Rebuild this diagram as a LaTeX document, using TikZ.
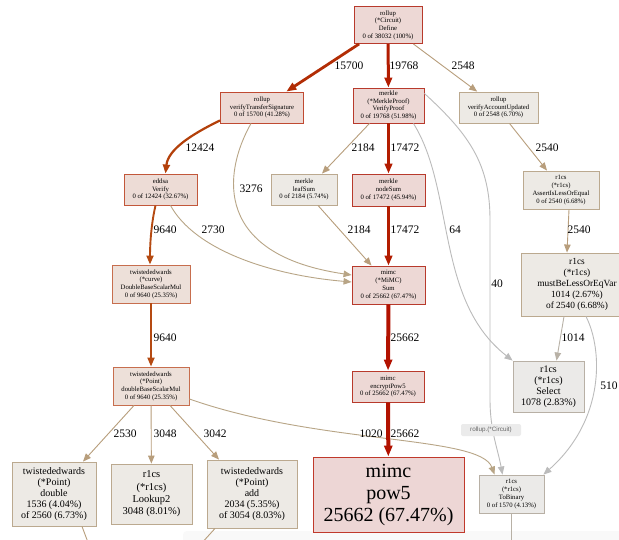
\documentclass[tikz,border=0pt]{standalone}
\usepackage{fontspec}
\setmainfont{Liberation Serif}
\newfontfamily\tipfont{Liberation Sans}
\usetikzlibrary{arrows.meta,calc}
\definecolor{fRed}{HTML}{EDD8D5}
\definecolor{dRed}{HTML}{B83A2C}
\definecolor{fVts}{HTML}{EDDAD5}
\definecolor{dVts}{HTML}{C04A32}
\definecolor{fEd}{HTML}{EDDCD6}
\definecolor{dEd}{HTML}{C2573A}
\definecolor{fTw}{HTML}{EDE0D9}
\definecolor{dTw}{HTML}{C76E4E}
\definecolor{fGr}{HTML}{EDEAE5}
\definecolor{dGr}{HTML}{BBA98F}
\definecolor{fGy}{HTML}{EBEAE8}
\definecolor{dGy}{HTML}{B8B0A5}
\definecolor{fPow}{HTML}{EDD6D5}
\definecolor{dPow}{HTML}{C0392B}
\definecolor{eRa}{HTML}{B21200}
\definecolor{eRb}{HTML}{B21C00}
\definecolor{eRc}{HTML}{B22D05}
\definecolor{eRd}{HTML}{B3400A}
\definecolor{eRe}{HTML}{B54A12}
\definecolor{eTan}{HTML}{B89E7C}
\definecolor{eTanL}{HTML}{B8A586}
\definecolor{eGray}{HTML}{BBBBBB}
\definecolor{eGT}{HTML}{B8B1A6}
\definecolor{tipFill}{HTML}{EBEBEB}
\definecolor{tipText}{HTML}{666666}
\begin{document}
\begin{tikzpicture}[x=1pt,y=-1pt,
  box/.style={rectangle, inner sep=0pt, align=center, line width=0.9pt},
  sm/.style={font=\fontsize{6.7}{7.7}\selectfont},
  md/.style={font=\fontsize{10}{11}\selectfont},
  nRed/.style={box, fill=fRed, draw=dRed},
  nVts/.style={box, fill=fVts, draw=dVts},
  nEd/.style={box, fill=fEd, draw=dEd},
  nTw/.style={box, fill=fTw, draw=dTw},
  nGr/.style={box, fill=fGr, draw=dGr},
  nGy/.style={box, fill=fGy, draw=dGy},
  lab/.style={font=\fontsize{11.5}{12}\selectfont, inner sep=0pt},
  thinE/.style={line width=0.9pt, -{Triangle[length=8pt,width=6.5pt]}},
  wA/.style={eRa, line width=4pt, -{Triangle[length=11pt,width=8pt]}},
  wB/.style={eRb, line width=3pt, -{Triangle[length=10pt,width=7.5pt]}},
  wC/.style={eRc, line width=2.8pt, -{Triangle[length=10pt,width=7.5pt]}},
  wD/.style={eRd, line width=2.2pt, -{Triangle[length=9pt,width=7pt]}},
  wE/.style={eRe, line width=1.9pt, -{Triangle[length=9pt,width=7pt]}},
]
\useasboundingbox (0,0) rectangle (619,539);
\fill[white] (0,0) rectangle (619,539);
\fill[black!2.5, rounded corners=4pt] (183,531) rectangle (625,545);

% nodes
\node[nRed, sm, minimum width=68pt, minimum height=37pt] (define) at (388,25) {rollup\\(*Circuit)\\Define\\0 of 38032 (100\%)};
\node[nVts, sm, minimum width=83pt, minimum height=31pt] (vts) at (262,107.5) {rollup\\verifyTransferSignature\\0 of 15700 (41.28\%)};
\node[nRed, sm, minimum width=71pt, minimum height=35pt] (vp) at (388.5,105.5) {merkle\\(*MerkleProof)\\VerifyProof\\0 of 19768 (51.98\%)};
\node[nGr, sm, minimum width=79pt, minimum height=31pt] (vau) at (498.5,107.5) {rollup\\verifyAccountUpdated\\0 of 2548 (6.70\%)};
\node[nEd, sm, minimum width=73pt, minimum height=31pt] (eddsa) at (160.5,189.5) {eddsa\\Verify\\0 of 12424 (32.67\%)};
\node[nGr, sm, minimum width=66pt, minimum height=31pt] (leaf) at (304,189.5) {merkle\\leafSum\\0 of 2184 (5.74\%)};
\node[nRed, sm, minimum width=73pt, minimum height=32pt] (nodesum) at (388.5,190) {merkle\\nodeSum\\0 of 17472 (45.94\%)};
\node[nGr, sm, minimum width=76pt, minimum height=38pt] (assert) at (561,190) {r1cs\\(*r1cs)\\AssertIsLessOrEqual\\0 of 2540 (6.68\%)};
\node[nGr, font=\fontsize{9.4}{11}\selectfont, minimum width=112pt, minimum height=63pt] (must) at (577,284.5) {r1cs\\(*r1cs)\\mustBeLessOrEqVar\\1014 (2.67\%)\\of 2540 (6.68\%)};
\node[nTw, sm, minimum width=78pt, minimum height=38pt] (curve) at (151,284) {twistededwards\\(*curve)\\DoubleBaseScalarMul\\0 of 9640 (25.35\%)};
\node[nRed, sm, minimum width=73pt, minimum height=38pt] (sum) at (388.5,285) {mimc\\(*MiMC)\\Sum\\0 of 25662 (67.47\%)};
\node[nTw, sm, minimum width=76pt, minimum height=38pt] (point) at (151,386) {twistededwards\\(*Point)\\doubleBaseScalarMul\\0 of 9640 (25.35\%)};
\node[nRed, sm, minimum width=72pt, minimum height=31pt] (enc) at (388,386.5) {mimc\\encryptPow5\\0 of 25662 (67.47\%)};
\node[nGy, md, minimum width=71pt, minimum height=51pt] (select) at (548.5,386.5) {r1cs\\(*r1cs)\\Select\\1078 (2.83\%)};
\node[nGr, md, minimum width=84pt, minimum height=64pt] (double) at (54,494) {twistededwards\\(*Point)\\double\\1536 (4.04\%)\\of 2560 (6.73\%)};
\node[nGr, font=\fontsize{10.5}{12.3}\selectfont, minimum width=81pt, minimum height=60pt] (lookup) at (151.5,494) {r1cs\\(*r1cs)\\Lookup2\\3048 (8.01\%)};
\node[nGr, md, minimum width=90pt, minimum height=68pt] (add) at (252,494) {twistededwards\\(*Point)\\add\\2034 (5.35\%)\\of 3054 (8.03\%)};
\node[box, fill=fPow, draw=dPow, font=\fontsize{20}{22}\selectfont, minimum width=151pt, minimum height=75pt] (pow5) at (388.5,494.5) {mimc\\pow5\\25662 (67.47\%)};
\node[nGy, sm, minimum width=65pt, minimum height=38pt] (tobin) at (511.5,494) {r1cs\\(*r1cs)\\ToBinary\\0 of 1570 (4.13\%)};

\coordinate (offD) at (89,545);
\coordinate (offA) at (200,545);
\coordinate (offT) at (511.5,545);

% edges
\draw[wC] (define) -- (vts);
\draw[wB] (define) -- (vp);
\draw[thinE, eTan] (define) -- (vau);
\draw[wD] ($(vts.south west)+(0,-3)$) .. controls (190,135) and (168,150) .. ($(eddsa.north)+(5,0)$);
\draw[thinE, eTanL] ($(vts.south)+(-11,0)$) .. controls (222,175) and (215,255) .. ($(sum.west)+(0,-10)$);
\draw[thinE, eTan] ($(vp.south)+(-19,0)$) -- ($(leaf.north)+(18,0)$);
\draw[wB, line width=2.8pt] (vp) -- (nodesum);
\draw[thinE, eGray] ($(vp.south east)+(-11,0)$) .. controls (455,190) and (435,300) .. ($(select.north west)+(0,0)$);
\draw[thinE, eGray] ($(vp.east)+(0,-12)$) .. controls (470,135) and (490,165) .. (490,220) -- (490,400) .. controls (490,430) and (498,450) .. ($(tobin.north)+(-9,0)$);
\draw[thinE, eTan] ($(vau.south)+(11,0)$) -- ($(assert.north)+(-14,0)$);
\draw[wE] ($(eddsa.south)+(-5,0)$) .. controls (151,225) and (150,245) .. ($(curve.north)+(-1,0)$);
\draw[thinE, eTanL] ($(eddsa.south)+(10,0)$) .. controls (195,250) and (270,275) .. ($(sum.west)+(0,-3)$);
\draw[thinE, eTan] ($(leaf.south)+(14,0)$) -- ($(sum.north)+(-17,0)$);
\draw[wB, line width=2.8pt] (nodesum) -- (sum);
\draw[thinE, eTan] ($(assert.south)+(8,0)$) -- ($(must.north)+(-10,0)$);
\draw[wE] (curve) -- (point);
\draw[wA] (sum) -- (enc);
\draw[thinE, eGT] ($(must.south)+(-13,0)$) -- ($(select.north)+(8,0)$);
\draw[thinE, eGray] ($(must.south)+(9,0)$) .. controls (603,350) and (605,420) .. ($(tobin.north east)+(-1,0)$);
\draw[thinE, eTan] ($(point.south)+(-17,0)$) -- ($(double.north)+(29,0)$);
\draw[thinE, eTan] (point) -- (lookup);
\draw[thinE, eTan] ($(point.south)+(19,0)$) -- ($(add.north)+(-33,0)$);
\draw[thinE, eTanL] ($(point.east)+(0,13)$) .. controls (320,445) and (480,435) .. ($(tobin.north west)+(16,0)$);
\draw[wA] (enc) -- (pow5);
\draw[line width=0.9pt, eTan] ($(double.south)+(28,0)$) -- (offD);
\draw[line width=0.9pt, eTan] ($(add.south)+(-37,0)$) -- (offA);
\draw[line width=0.9pt, eGT] (tobin.south) -- (offT);

% labels
\node[lab] (l15700) at (349,66) {15700};
\node[lab] (l19768) at (404,66) {19768};
\node[lab] (l2548) at (463,66) {2548};
\node[lab] (l12424) at (200,148) {12424};
\node[lab] (l3276) at (251,189) {3276};
\node[lab] (l2184a) at (363,148) {2184};
\node[lab] (l17472a) at (405,148) {17472};
\node[lab] (l2540a) at (547,148) {2540};
\node[lab] (l9640a) at (165,230) {9640};
\node[lab] (l2730) at (213,230) {2730};
\node[lab] (l2184b) at (359,230) {2184};
\node[lab] (l17472b) at (405,230) {17472};
\node[lab] (l64) at (455,230) {64};
\node[lab] (l2540b) at (579,230) {2540};
\node[lab] (l40) at (497,284) {40};
\node[lab] (l9640b) at (165,338) {9640};
\node[lab] (l25662a) at (405,338) {25662};
\node[lab] (l1014) at (573,338) {1014};
\node[lab] (l510) at (609,386) {510};
\node[lab] (l2530) at (125,434) {2530};
\node[lab] (l3048) at (165,434) {3048};
\node[lab] (l3042) at (215,434) {3042};
\node[lab] (l1020) at (371,434) {1020};
\node[lab] (l25662b) at (405,434) {25662};

% tooltip
\node[fill=tipFill, rounded corners=2pt, inner sep=0pt, minimum width=60pt, minimum height=12pt, font=\tipfont\fontsize{6.3}{7}\selectfont, text=tipText] (tip) at (491,430) {rollup.(*Circuit)};
\end{tikzpicture}
\end{document}
